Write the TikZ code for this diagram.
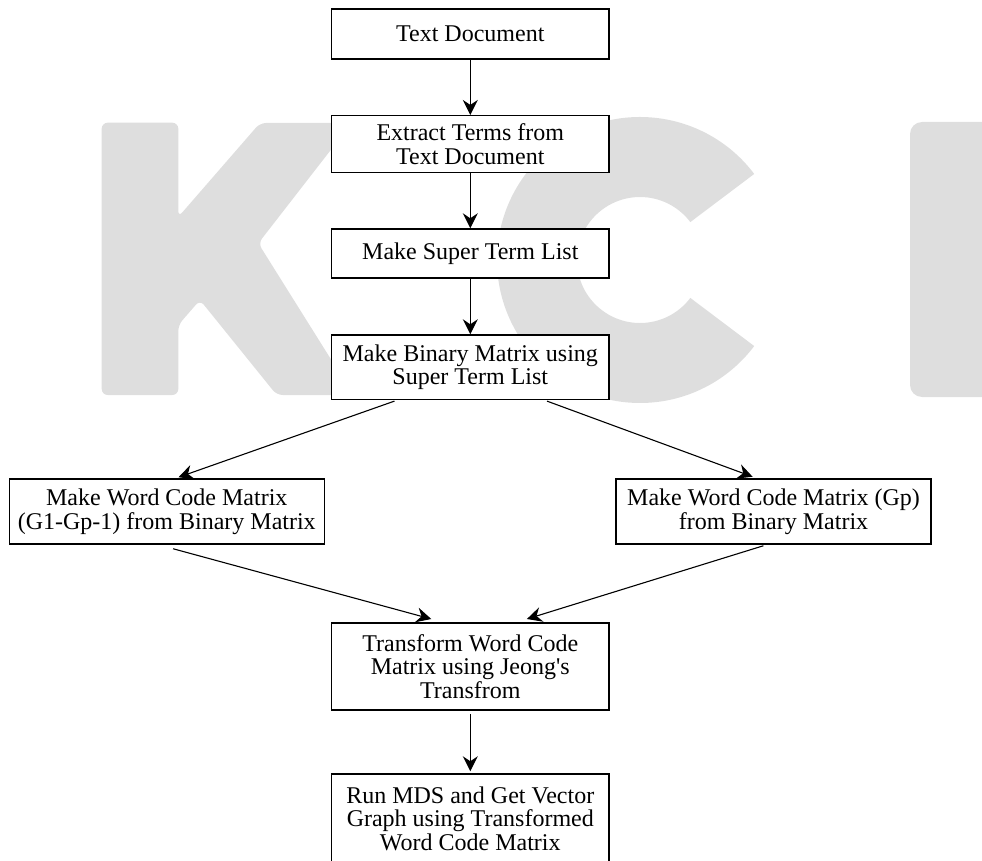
\documentclass[tikz,border=0pt]{standalone}
\usepackage{fontspec}
\setmainfont{Liberation Serif}
\usetikzlibrary{arrows.meta,calc}
\definecolor{wm}{RGB}{222,222,222}
\begin{document}
\begin{tikzpicture}[x=1pt,y=1pt,
  box/.style={draw,line width=1.5pt,fill=white,inner sep=0pt,align=center,
    font=\fontsize{24}{23.7}\selectfont},
  arr/.style={line width=1.1pt,-{Stealth[length=15pt,width=15pt,inset=5pt]}},
  wmark/.style={fill=wm}]
\useasboundingbox (0,0) rectangle (982,-861);
\begin{scope}
  \clip (0,0) rectangle (982,-861);
  % watermark K
  \fill[wmark,rounded corners=6pt] (101.7,-122.7) -- (178.3,-122.7) -- (178.3,-217) -- (260,-123)
    -- (351.7,-123) -- (258.3,-243.3) -- (353.3,-395) -- (276.7,-395) -- (200,-300)
    -- (178.3,-325) -- (178.3,-395) -- (101.7,-395) -- cycle;
  % watermark C
  \fill[wmark] ($(640,-260)+(37:143pt)$) arc[start angle=37,end angle=323,radius=143pt]
    -- ($(640,-260)+(323:63pt)$) arc[start angle=323,end angle=37,radius=63pt] -- cycle;
  % watermark I
  \fill[wmark,rounded corners=12pt] (910,-122) rectangle (1010,-397);

  % boxes
  \node[box,minimum width=277.3pt,minimum height=50pt] (b1) at (470.3,-34) {Text Document};
  \node[box,minimum width=277.3pt,minimum height=56.6pt] (b2) at (470.3,-144) {Extract Terms from\\Text Document};
  \node[box,minimum width=277.3pt,minimum height=48.7pt] (b3) at (470.3,-253.4) {Make Super Term List};
  \node[box,minimum width=277.3pt,minimum height=64.3pt] (b4) at (470.3,-367.2) {Make Binary Matrix using\\Super Term List};
  \node[box,minimum width=315pt,minimum height=65pt] (b5l) at (166.8,-511.5) {Make Word Code Matrix\\(G1-Gp-1) from Binary Matrix};
  \node[box,minimum width=315pt,minimum height=65pt] (b5r) at (773.5,-511.5) {Make Word Code Matrix (Gp)\\from Binary Matrix};
  \node[box,minimum width=277.3pt,minimum height=87.3pt] (b6) at (470.3,-666.4) {Transform Word Code\\Matrix using Jeong\textquotesingle s\\Transfrom};
  \node[box,minimum width=277.3pt,minimum height=89.4pt] (b7) at (470.3,-818.7) {Run MDS and Get Vector\\Graph using Transformed\\Word Code Matrix};

  % connectors
  \draw[arr] (b1.south) -- (b2.north);
  \draw[arr] (b2.south) -- (b3.north);
  \draw[arr] (b3.south) -- (b4.north);
  \draw[arr] ($(b4.south west)!0.228!(b4.south east)+(0,-1)$) -- ($(b5l.north west)!0.537!(b5l.north east)+(0,1)$);
  \draw[arr] ($(b4.south west)!0.775!(b4.south east)+(0,-1)$) -- ($(b5r.north west)!0.434!(b5r.north east)+(0,1.5)$);
  \draw[arr] ($(b5l.south west)!0.52!(b5l.south east)+(0,-4)$) -- ($(b6.north west)!0.36!(b6.north east)+(0,3)$);
  \draw[arr] ($(b5r.south west)!0.468!(b5r.south east)+(0,-1)$) -- ($(b6.north west)!0.703!(b6.north east)+(0,3)$);
  \draw[arr] ($(b6.south)+(0,-3)$) -- ($(b7.north)+(0,2)$);
\end{scope}
\end{tikzpicture}
\end{document}
